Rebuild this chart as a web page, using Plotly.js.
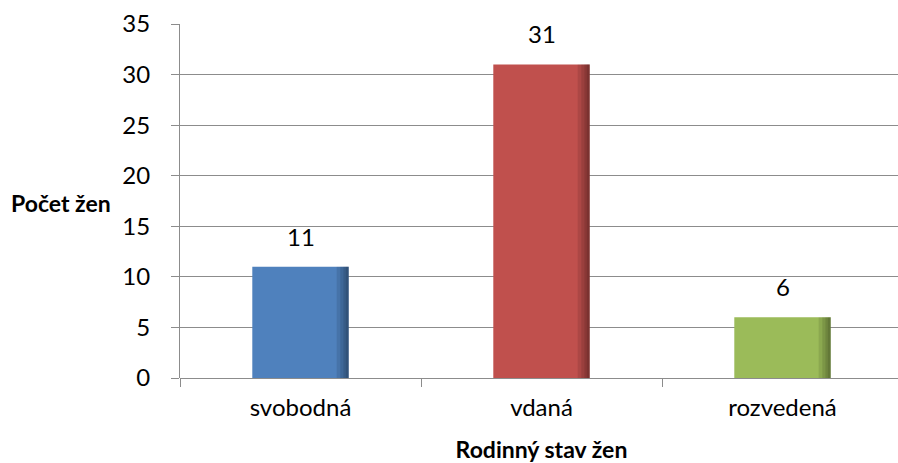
<!DOCTYPE html>
<html>
<head>
<meta charset="utf-8">
<script src="https://cdn.plot.ly/plotly-3.0.1.min.js"></script>
<style>
html,body{margin:0;padding:0;background:#fff;overflow:hidden;}
#chart{width:903px;height:463px;}
</style>
</head>
<body>
<div id="chart"></div>
<script>
const categories = ["svobodná", "vdaná", "rozvedená"];
const counts = [11, 31, 6];
const barColors = ["#4F81BD", "#C0504D", "#9BBB59"];
const yTicks = [0, 5, 10, 15, 20, 25, 30, 35];
const xTitle = "Rodinný stav žen";
const yTitle = "Počet žen";

const FONT = "Lato, 'Open Sans', sans-serif";
const BW = 0.4;

const traces = [{
  type: "bar",
  x: categories,
  y: counts,
  width: BW,
  offset: -BW / 2,
  marker: {color: barColors, line: {width: 0}},
  hoverinfo: "skip"
}];

// right-edge shading layers
const shadeW = [0.05, 0.035, 0.022, 0.012];
shadeW.forEach(w => {
  traces.push({
    type: "bar",
    x: categories,
    y: counts,
    width: w,
    offset: BW / 2 - w,
    marker: {color: "rgba(0,0,0,0.1)", line: {width: 0}},
    hoverinfo: "skip"
  });
});

const annotations = categories.map((c, i) => ({
  x: c, y: counts[i], xref: "x", yref: "y",
  text: String(counts[i]),
  showarrow: false, yanchor: "bottom", yshift: 14,
  font: {family: FONT, size: 24, color: "#000"}
}));
annotations.push({
  xref: "paper", yref: "y", x: -0.236, y: 17.3,
  xanchor: "left", yanchor: "middle",
  text: "<b>" + yTitle + "</b>", showarrow: false,
  font: {family: FONT, size: 23, color: "#000"}
});

const layout = {
  width: 903, height: 463,
  margin: {l: 180, r: 0, t: 24, b: 85},
  paper_bgcolor: "#fff", plot_bgcolor: "#fff",
  barmode: "overlay",
  showlegend: false,
  font: {family: FONT, size: 24, color: "#000"},
  xaxis: {
    type: "category",
    range: [-0.5, 2.5],
    showgrid: false,
    showline: false,
    zeroline: false,
    ticks: "outside",
    tickson: "boundaries",
    ticklen: 8,
    tickcolor: "#8c8c8c",
    tickwidth: 1,
    tickfont: {family: FONT, size: 24, color: "#000"},
    ticklabelstandoff: 13,
    title: {text: "<b>" + xTitle + "</b>", font: {family: FONT, size: 23, color: "#000"}, standoff: 24}
  },
  yaxis: {
    range: [0, 35],
    tickvals: yTicks,
    ticktext: yTicks.map(String),
    showgrid: true,
    gridcolor: "#8c8c8c",
    gridwidth: 1,
    showline: true,
    linecolor: "#8c8c8c",
    linewidth: 1,
    zeroline: true,
    zerolinecolor: "#8c8c8c",
    zerolinewidth: 1,
    ticks: "outside",
    ticklen: 8,
    tickcolor: "#8c8c8c",
    tickwidth: 1,
    ticklabelstandoff: 16,
    tickfont: {family: FONT, size: 24, color: "#000"}
  },
  annotations: annotations
};

Plotly.newPlot("chart", traces, layout, {displayModeBar: false, staticPlot: true});
</script>
</body>
</html>
